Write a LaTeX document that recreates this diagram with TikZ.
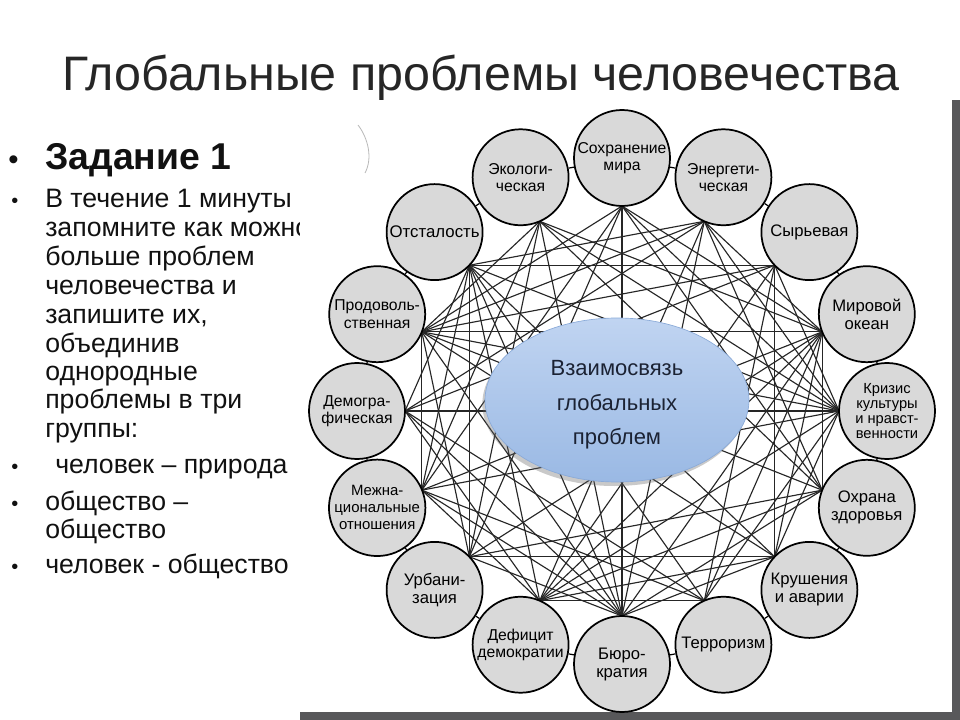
\documentclass[tikz,border=0pt]{standalone}
\usepackage{fontspec}
\setmainfont{Liberation Sans}
\usetikzlibrary{calc,shapes.geometric,shadows}
\definecolor{txt}{HTML}{111111}
\definecolor{frame}{HTML}{58585A}
\definecolor{circfill}{HTML}{D9D9D9}
\definecolor{linkc}{HTML}{262626}
\definecolor{elltop}{HTML}{C0D4F1}
\definecolor{ellbot}{HTML}{9AB9E4}
\definecolor{elldraw}{HTML}{8AAAD8}
\definecolor{elltext}{HTML}{1B2233}
\pgfdeclarelayer{bg}
\pgfdeclarelayer{lines}
\pgfsetlayers{bg,lines,main}
\tikzset{
  prob/.style={circle, draw=black, line width=1.3pt, fill=circfill, minimum size=72pt, inner sep=0pt, align=center, text=black},
  link/.style={draw=linkc, line width=0.85pt},
  ringline/.style={draw=black, line width=0.9pt},
  bodytxt/.style={anchor=base west, inner sep=0pt, text=txt, font=\fontsize{20}{22}\selectfont},
  bul/.style={anchor=base west, inner sep=0pt, text=txt, font=\fontsize{15}{16}\selectfont},
  central/.style={ellipse, minimum width=198pt, minimum height=123pt, inner sep=0pt,
    top color=elltop, bottom color=ellbot, draw=elldraw, line width=0.5pt,
    drop shadow={shadow xshift=-2pt, shadow yshift=-3pt, opacity=0.35, fill=black!60}},
  centraltext/.style={align=center, inner sep=0pt, text=elltext, font=\fontsize{16.5}{26}\selectfont}
}
\begin{document}
\begin{tikzpicture}[x=0.75pt,y=-0.75pt]
\begin{pgfonlayer}{bg}
  \fill[white] (0,0) rectangle (960,720);
  \useasboundingbox (0,0) rectangle (960,720);
  % title
  \node[anchor=base, inner sep=0pt, text=black!85] (title) at (481,91) {\fontsize{36.3}{40}\selectfont Глобальные проблемы человечества};
  % left column
  \node[bul, font=\fontsize{22}{24}\selectfont] (b0) at (8,170) {•};
  \node[anchor=base west, inner sep=0pt, text=txt, font=\bfseries\fontsize{28}{30}\selectfont] (task) at (45,170) {Задание 1};
  \node[bul] (b1) at (11,208) {•};
  \node[bodytxt] (l1) at (45,208) {В течение 1 минуты};
  \node[bodytxt] (l2) at (45,237) {запомните как можно};
  \node[bodytxt] (l3) at (45,266) {больше проблем};
  \node[bodytxt] (l4) at (45,295) {человечества и};
  \node[bodytxt] (l5) at (45,323) {запишите их,};
  \node[bodytxt] (l6) at (45,352) {объединив};
  \node[bodytxt] (l7) at (45,380) {однородные};
  \node[bodytxt] (l8) at (45,408) {проблемы в три};
  \node[bodytxt] (l9) at (45,437) {группы:};
  \node[bul] (b2) at (11,473) {•};
  \node[bodytxt] (l10) at (55,473) {человек – природа};
  \node[bul] (b3) at (11,510) {•};
  \node[bodytxt] (l11) at (45,510) {общество –};
  \node[bodytxt] (l12) at (45,538) {общество};
  \node[bul] (b4) at (11,573) {•};
  \node[bodytxt] (l13) at (45,573) {человек - общество};
  % pasted picture with its frame
  \fill[frame] (300,100) rectangle (960,720);
  \fill[white] (300,100) rectangle (952,712);
  \draw[gray!55, line width=0.6pt] (358,125) .. controls (368,138) and (373,158) .. (365,173);
\end{pgfonlayer}

\coordinate (ring) at (622,411);
\foreach \k/\lab/\fs/\bs in {
  0/{Сохранение\\мира}/11.8/13,
  1/{Энергети-\\ческая}/11.8/13,
  2/{Сырьевая}/12.5/14,
  3/{Мировой\\океан}/12.5/13.5,
  4/{Кризис\\культуры\\и нравст-\\венности}/11/11.3,
  5/{Охрана\\здоровья}/12.5/13.5,
  6/{Крушения\\и аварии}/12.5/13.5,
  7/{Терроризм}/12.5/14,
  8/{Бюро-\\кратия}/12.5/13.5,
  9/{Дефицит\\демократии}/11.8/13,
  10/{Урбани-\\зация}/12.5/13.5,
  11/{Межна-\\циональные\\отношения}/11.2/12.8,
  12/{Демогра-\\фическая}/11.8/13,
  13/{Продоволь-\\ственная}/11.8/13,
  14/{Отсталость}/12.6/14,
  15/{Экологи-\\ческая}/11.8/13}{
  \node[prob, font=\fontsize{\fs}{\bs}\selectfont] (n\k) at ({622+265*sin(\k*22.5)},{411-253*cos(\k*22.5)}) {\lab};
  \coordinate (h\k) at ($(n\k)!36pt!(ring)$);
}

\begin{pgfonlayer}{lines}
\foreach \i in {0,...,15}{
  \pgfmathtruncatemacro\j{mod(\i+1,16)}
  \draw[ringline] (n\i) -- (n\j);
  \foreach \d in {2,...,7}{
    \pgfmathtruncatemacro\m{mod(\i+\d,16)}
    \pgfmathtruncatemacro\keep{mod(\i*\m+\i+2*\m,5)}
    \ifnum\keep=4\else\ifnum\keep=2\else\draw[link] (h\i) -- (h\m);\fi\fi
  }
}
\foreach \i in {0,...,7}{
  \pgfmathtruncatemacro\m{\i+8}
  \pgfmathtruncatemacro\keep{mod(\i*\m+\i+2*\m,5)}
  \ifnum\keep=4\else\ifnum\keep=2\else\draw[link] (h\i) -- (h\m);\fi\fi
}
\end{pgfonlayer}

\node[central] (core) at (617,400) {};
\node[centraltext] (coretext) at (617,405) {Взаимосвязь\\глобальных\\проблем};
\end{tikzpicture}
\end{document}
